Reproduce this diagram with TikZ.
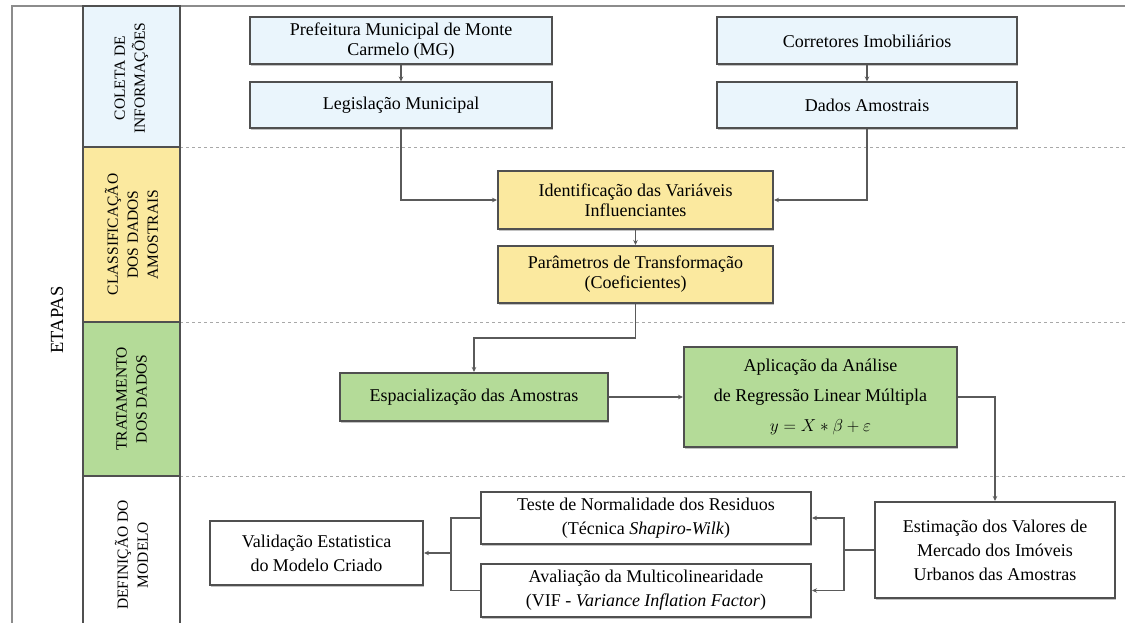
\documentclass[tikz,border=0pt]{standalone}
\usepackage{fontspec}
\setmainfont{Liberation Serif}
\usetikzlibrary{arrows.meta,shadows}
\definecolor{cblue}{HTML}{EAF5FC}
\definecolor{cyellow}{HTML}{FBE99F}
\definecolor{cgreen}{HTML}{B4DB98}
\definecolor{boxc}{HTML}{505050}
\definecolor{framec}{HTML}{8C8C8C}
\definecolor{dashc}{HTML}{A8A8A8}
\definecolor{connc}{HTML}{5A5A5A}
\newcommand{\boxfont}[1]{\rmfamily\fontsize{18}{#1}\selectfont}
\begin{document}
\begin{tikzpicture}[x=1pt,y=-1pt,
  box/.style={draw=boxc, line width=2pt, align=center, inner sep=0pt,
    font=\boxfont{20},
    drop shadow={shadow xshift=1pt, shadow yshift=-1.5pt, fill=black!40, opacity=0.6}},
  stagebox/.style={draw=boxc, line width=2pt},
  stagelbl/.style={align=center, rotate=90, font=\rmfamily\fontsize{15.5}{20}\selectfont},
  dashline/.style={draw=dashc, dashed, line width=0.9pt},
  conn/.style={draw=connc, line width=1.1pt, -{Stealth[length=5pt,width=4.5pt]}},
  plain/.style={draw=connc, line width=1.1pt}]
\useasboundingbox (0,0) rectangle (1125,623);
\clip (0,0) rectangle (1125,623);
% outer frame
\draw[framec, line width=1.6pt] (12,6) rectangle (1140,640);
% dashed separators
\draw[dashline] (180,147) -- (1125,147);
\draw[dashline] (180,322) -- (1125,322);
\draw[dashline] (180,476) -- (1125,476);
% stage column
\draw[stagebox, fill=cblue] (83,6) rectangle (180,147);
\draw[stagebox, fill=cyellow] (83,147) rectangle (180,322);
\draw[stagebox, fill=cgreen] (83,322) rectangle (180,476);
\draw[stagebox, fill=white] (83,476) rectangle (180,640);
\node[stagelbl] (s1) at (131.5,78) {COLETA DE\\INFORMAÇÕES};
\node[stagelbl] (s2) at (131.5,234.5) {CLASSIFICAÇÃO\\DOS DADOS\\AMOSTRAIS};
\node[stagelbl] (s3) at (131.5,399) {TRATAMENTO\\DOS DADOS};
\node[stagelbl] (s4) at (131.5,555) {DEFINIÇÃO DO\\MODELO};
\node[rotate=90, font=\rmfamily\fontsize{18.5}{20}\selectfont] (etapas) at (57,320) {ETAPAS};
% nodes
\node[box, fill=cblue, minimum width=302pt, minimum height=47pt] (pref) at (401,41) {Prefeitura Municipal de Monte\\Carmelo (MG)};
\node[box, fill=cblue, minimum width=302pt, minimum height=46pt] (leg) at (401,105.5) {Legislação Municipal};
\node[box, fill=cblue, minimum width=300pt, minimum height=47pt] (corr) at (867,41) {Corretores Imobiliários};
\node[box, fill=cblue, minimum width=300pt, minimum height=46pt] (dados) at (867,105.5) {Dados Amostrais};
\node[box, fill=cyellow, minimum width=275pt, minimum height=58pt] (ident) at (635.5,200) {Identificação das Variáveis\\Influenciantes};
\node[box, fill=cyellow, minimum width=275pt, minimum height=57pt] (param) at (635.5,274.5) {Parâmetros de Transformação\\(Coeficientes)};
\node[box, fill=cgreen, minimum width=268pt, minimum height=48pt] (esp) at (474,397) {Espacialização das Amostras};
\node[box, fill=cgreen, minimum width=273pt, minimum height=100pt, font=\boxfont{30}] (apl) at (820.5,397) {Aplicação da Análise\\de Regressão Linear Múltipla\\$y = X * \beta + \varepsilon$};
\node[box, fill=white, minimum width=240pt, minimum height=96pt, font=\boxfont{24}] (est) at (995,550) {Estimação dos Valores de\\Mercado dos Imóveis\\Urbanos das Amostras};
\node[box, fill=white, minimum width=330pt, minimum height=52pt, font=\boxfont{24}] (teste) at (646,518) {Teste de Normalidade dos Residuos\\(Técnica \textit{Shapiro-Wilk})};
\node[box, fill=white, minimum width=330pt, minimum height=53pt, font=\boxfont{24}] (aval) at (646,590.5) {Avaliação da Multicolinearidade\\(VIF - \textit{Variance Inflation Factor})};
\node[box, fill=white, minimum width=213pt, minimum height=64pt, font=\boxfont{24}] (valid) at (316.5,553) {Validação Estatistica\\do Modelo Criado};
% connectors
\draw[conn] (pref) -- (leg);
\draw[conn] (corr) -- (dados);
\draw[conn] (leg.south) |- (ident.west);
\draw[conn] (dados.south) |- (ident.east);
\draw[conn] (ident) -- (param);
\coordinate (k1) at (635.5,338);
\draw[conn] (param.south) -- (k1) -| (esp.north);
\draw[conn] (esp) -- (apl);
\draw[conn] (apl.east) -| (est.north);
\coordinate (k2) at (844,550);
\draw[plain] (est.west) -- (k2);
\draw[conn] (k2) |- (teste.east);
\draw[conn] (k2) |- (aval.east);
\coordinate (k3) at (451,553);
\draw[plain] (teste.west) -| (k3);
\draw[plain] (aval.west) -| (k3);
\draw[conn] (k3) -- (valid.east);
\end{tikzpicture}
\end{document}
